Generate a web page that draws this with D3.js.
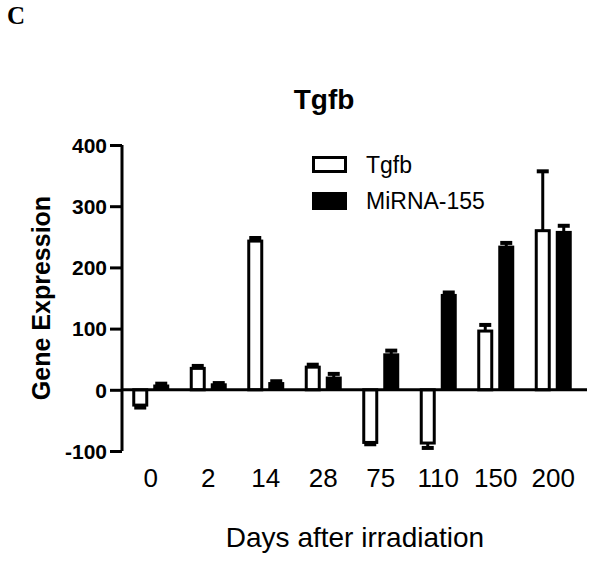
<!DOCTYPE html>
<html>
<head>
<meta charset="utf-8">
<script src="https://cdn.jsdelivr.net/npm/d3@7"></script>
<style>
  html, body { margin: 0; padding: 0; background: #fff; }
  svg { display: block; }
  text { font-family: Arial, "Liberation Sans", sans-serif; fill: #000; }
</style>
</head>
<body>
<div id="chart"></div>
<script>
// ---- data ----
const days = ["0", "2", "14", "28", "75", "110", "150", "200"];
const seriesNames = ["Tgfb", "MiRNA-155"];
const tgfbValues = [-25, 35, 243, 37, -86, -87, 96, 260];
const tgfbErrors = [4, 4, 5, 4, 3, 8, 10, 97];
const mirnaValues = [7, 9, 11, 20, 58, 155, 234, 258];
const mirnaErrors = [3, 2, 3, 6, 6, 4, 6, 10];
const yTicks = [-100, 0, 100, 200, 300, 400];

const W = 601, H = 563;
const svg = d3.select("#chart").append("svg").attr("width", W).attr("height", H);

const x = d3.scalePoint().domain(days).range([122, 582]).padding(0.5);
const xs = d3.scaleBand().domain(seriesNames).range([-18.5, 18.5]).paddingInner(5 / 21);
const y = d3.scaleLinear().domain([-100, 400]).range([451, 145]);

const data = [];
days.forEach((d, i) => {
  data.push({ day: d, s: "Tgfb", v: tgfbValues[i], e: tgfbErrors[i] });
  data.push({ day: d, s: "MiRNA-155", v: mirnaValues[i], e: mirnaErrors[i] });
});

// panel letter
svg.append("text").attr("x", 7).attr("y", 24)
  .style("font-family", "'Liberation Serif', 'Times New Roman', serif")
  .style("font-weight", "bold").style("font-size", "25px").text("C");

// title
svg.append("text").attr("x", 324).attr("y", 109).attr("text-anchor", "middle")
  .style("font-weight", "bold").style("font-size", "28px").text("Tgfb");

// error bars (one-sided)
const eb = svg.append("g");
data.forEach(d => {
  const cx = x(d.day) + xs(d.s) + xs.bandwidth() / 2;
  const end = d.v >= 0 ? d.v + d.e : d.v - d.e;
  eb.append("line").attr("x1", cx).attr("x2", cx)
    .attr("y1", y(d.v)).attr("y2", y(end))
    .attr("stroke", "#000").attr("stroke-width", 3);
  eb.append("line").attr("x1", cx - 6).attr("x2", cx + 6)
    .attr("y1", y(end)).attr("y2", y(end))
    .attr("stroke", "#000").attr("stroke-width", 4);
});

// bars
const bars = svg.append("g");
data.forEach(d => {
  const x0 = x(d.day) + xs(d.s);
  const top = Math.min(y(d.v), y(0)), bot = Math.max(y(d.v), y(0));
  if (d.s === "Tgfb") {
    bars.append("rect").attr("x", x0 + 1.5).attr("y", top)
      .attr("width", xs.bandwidth() - 3).attr("height", bot - top)
      .attr("fill", "#fff").attr("stroke", "#000").attr("stroke-width", 3);
  } else {
    bars.append("rect").attr("x", x0).attr("y", top - 1)
      .attr("width", xs.bandwidth()).attr("height", bot - top + 1)
      .attr("fill", "#000");
  }
});

// y axis
const yAxis = svg.append("g").attr("transform", "translate(122,0)")
  .call(d3.axisLeft(y).tickValues(yTicks).tickSize(12).tickPadding(3).tickFormat(d => String(d)));
yAxis.select(".domain").attr("stroke-width", 3).attr("d", `M0,${y(-100)}V${y(400)}`);
yAxis.selectAll(".tick line").attr("stroke-width", 3);
yAxis.selectAll(".tick text").style("font-size", "21px").style("font-weight", "bold")
  .style("font-family", "Arial, 'Liberation Sans', sans-serif").attr("dy", "0.35em");

// x axis at zero line
svg.append("line").attr("x1", 122).attr("x2", 587).attr("y1", y(0)).attr("y2", y(0))
  .attr("stroke", "#000").attr("stroke-width", 3);

// x labels
svg.append("g").selectAll("text").data(days).join("text")
  .attr("x", d => x(d)).attr("y", 487).attr("text-anchor", "middle")
  .style("font-size", "26px").text(d => d);

// axis titles
svg.append("text").attr("x", 355).attr("y", 547).attr("text-anchor", "middle")
  .style("font-size", "28px").text("Days after irradiation");
svg.append("text").attr("transform", "translate(50,298) rotate(-90)").attr("text-anchor", "middle")
  .style("font-weight", "bold").style("font-size", "25px").text("Gene Expression");

// legend
const lg = svg.append("g");
lg.append("rect").attr("x", 313.5).attr("y", 157.5).attr("width", 32).attr("height", 14)
  .attr("fill", "#fff").attr("stroke", "#000").attr("stroke-width", 3);
lg.append("rect").attr("x", 312).attr("y", 192).attr("width", 35).attr("height", 18).attr("fill", "#000");
lg.append("text").attr("x", 366).attr("y", 173).style("font-size", "23px").text(seriesNames[0]);
lg.append("text").attr("x", 366).attr("y", 209).style("font-size", "23px").text(seriesNames[1]);
</script>
</body>
</html>
